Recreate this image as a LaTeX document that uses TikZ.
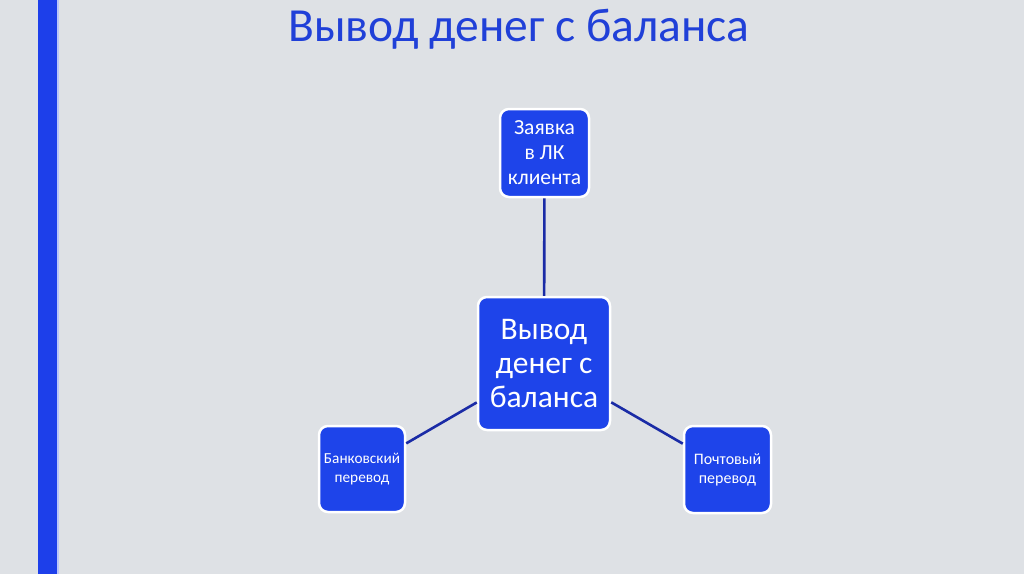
\documentclass[tikz,border=0pt]{standalone}
\usepackage{fontspec}
\setmainfont{Carlito}
\definecolor{bg}{HTML}{DEE1E5}
\definecolor{bar}{HTML}{1D3FEA}
\definecolor{titleblue}{HTML}{2040D8}
\definecolor{boxblue}{HTML}{1E44EA}
\definecolor{linkblue}{HTML}{1A2BA6}
\begin{document}
\begin{tikzpicture}[x=1pt,y=-1pt,
  box/.style={rectangle, rounded corners=9pt, fill=boxblue, draw=white, line width=2.5pt, text=white, align=center, inner sep=0pt},
  link/.style={draw=linkblue, line width=2.6pt}]
\fill[bg] (0,0) rectangle (1024,574);
\useasboundingbox (0,0) rectangle (1024,574);
\fill[bar] (38,0) rectangle (57,574);
\fill[white!70!bar] (57,0) rectangle (58.5,574);
\node[text=titleblue, font=\fontsize{47.5}{55}\selectfont, anchor=base] (title) at (519,41) {Вывод денег с баланса};
\node[box, minimum width=132pt, minimum height=133pt, font=\fontsize{31.5}{34}\selectfont] (c) at (544,363.5) {Вывод\\денег с\\баланса};
\node[box, minimum width=89pt, minimum height=88pt, font=\fontsize{21.5}{25}\selectfont] (t) at (544.5,153) {Заявка\\в ЛК\\клиента};
\node[box, minimum width=86pt, minimum height=86pt, font=\fontsize{15.3}{19}\selectfont] (l) at (362,469) {Банковский\\перевод};
\node[box, minimum width=87pt, minimum height=87pt, font=\fontsize{16}{19}\selectfont] (r) at (727.5,469.5) {Почтовый\\перевод};
\draw[link] (c) -- (t);
\draw[link] (c) -- (l);
\draw[link] (c) -- (r);
\end{tikzpicture}
\end{document}
